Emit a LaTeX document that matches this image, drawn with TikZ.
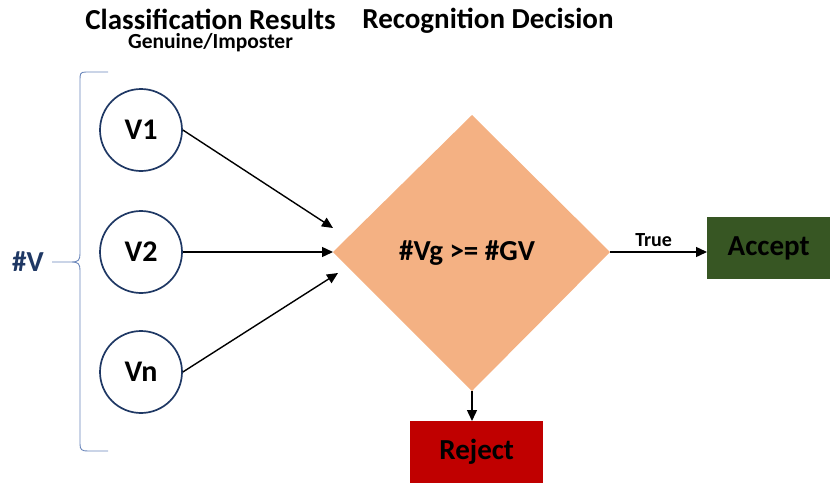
\documentclass[tikz,border=0pt]{standalone}
\usepackage{fontspec}
\setmainfont{Carlito}
\usetikzlibrary{arrows.meta}
\definecolor{navy}{HTML}{1F3864}
\definecolor{bracecol}{HTML}{6A86BA}
\definecolor{peach}{HTML}{F4B183}
\definecolor{okgreen}{HTML}{375623}
\definecolor{nored}{HTML}{C00000}
\tikzset{
  vote/.style={circle, draw=navy, line width=1.7pt, minimum size=82pt, inner sep=0pt,
    font=\fontsize{30}{30}\selectfont\bfseries},
  title/.style={inner sep=0pt, font=\fontsize{29}{19.5}\selectfont\bfseries},
  outcome/.style={minimum height=62pt, inner sep=0pt, font=\fontsize{29}{29}\selectfont\bfseries},
  link/.style={line width=1.4pt, -{Triangle[length=11pt,width=10pt]}},
}
\begin{document}
\begin{tikzpicture}[x=1pt,y=-1pt]
\useasboundingbox (0,0) rectangle (830,482);
% headings
\node[title, align=center] (t1) at (210.5,30.5)
  {Classification Results\\{\fontsize{21.5}{19.5}\selectfont Genuine/Imposter}};
\node[title, anchor=base] (t3) at (488,28.5) {Recognition Decision};
% individual votes
\node[vote] (v1) at (141,130) {V1};
\node[vote] (v2) at (141,252) {V2};
\node[vote] (vn) at (141,372) {Vn};
% brace grouping the votes
\draw[bracecol, line width=0.9pt]
  (108,72) -- (86,72) .. controls (80,72) and (80,74) .. (80,80)
  -- (80,254) .. controls (80,260) and (78,262) .. (72,262) -- (52,262)
  (72,262) .. controls (78,262) and (80,264) .. (80,270)
  -- (80,444) .. controls (80,450) and (82,451) .. (88,451) -- (108,451);
\node[text=navy, font=\fontsize{29}{29}\selectfont\bfseries] (nv) at (28,262) {\#V};
% decision diamond, drawn from its four corners
\coordinate (dL) at (333,252);
\coordinate (dR) at (610,252);
\coordinate (dT) at (472,115);
\coordinate (dB) at (472,391);
\fill[peach] (dL) -- (dT) -- (dR) -- (dB) -- cycle;
\node[font=\fontsize{29}{29}\selectfont\bfseries] (dec) at (467,253) {\#Vg >= \#GV};
% outcomes
\node[outcome, fill=okgreen, minimum width=123pt, anchor=north west] (acc) at (707,217) {Accept};
\node[outcome, fill=nored, minimum width=133pt, anchor=north west] (rej) at (410,421) {Reject};
% connectors
\coordinate (d1) at (333,228);
\coordinate (dn) at (338,273);
\draw[link] (v1.east) -- (d1);
\draw[link] (v2.east) -- (dL);
\draw[link] (vn.east) -- (dn);
\draw[link] (dR) -- node[above=1pt, font=\fontsize{20}{20}\selectfont\bfseries, pos=0.45] (tl) {True} (dR -| acc.west);
\draw[link] (dB) -- (dB |- rej.north);
\end{tikzpicture}
\end{document}
